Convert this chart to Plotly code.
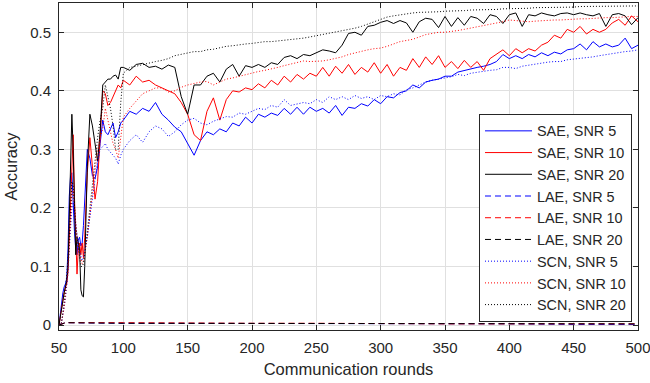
import plotly.graph_objects as go

# ---------------- data ----------------
rounds = ([50, 51, 52, 53, 54, 55, 56, 57, 58, 59, 60, 61, 62, 63, 64, 65, 66, 67, 68, 69, 70,
           72, 74, 76, 78, 80, 82, 84, 86, 88, 90, 92, 94, 96, 98]
          + list(range(100, 501, 5)))

sae_snr5 = [0, 0.02, 0.04, 0.055, 0.065, 0.07, 0.08, 0.13, 0.22, 0.255, 0.26, 0.2, 0.16, 0.13, 0.12, 0.145, 0.15, 0.135, 0.14, 0.17, 0.21,
            0.3, 0.285, 0.255, 0.25, 0.27, 0.31, 0.35, 0.33, 0.325, 0.335, 0.345, 0.32, 0.33, 0.345,
            0.35, 0.365, 0.36, 0.37, 0.365, 0.38, 0.36, 0.35, 0.338, 0.33,
            0.31, 0.29, 0.315, 0.33, 0.325, 0.335, 0.33, 0.345, 0.34, 0.355,
            0.345, 0.36, 0.355, 0.362, 0.358, 0.37, 0.36, 0.372, 0.36, 0.372,
            0.365, 0.37, 0.362, 0.375, 0.358, 0.372, 0.37, 0.378, 0.374, 0.385,
            0.378, 0.39, 0.388, 0.397, 0.4, 0.41, 0.405, 0.415, 0.418, 0.42,
            0.425, 0.425, 0.432, 0.435, 0.438, 0.44, 0.442, 0.445, 0.45, 0.462,
            0.455, 0.46, 0.455, 0.462, 0.458, 0.465, 0.46, 0.466, 0.463, 0.47,
            0.472, 0.48, 0.47, 0.484, 0.475, 0.48, 0.475, 0.478, 0.49, 0.472,
            0.478]

sae_snr10 = [0, 0.015, 0.03, 0.045, 0.055, 0.065, 0.07, 0.09, 0.15, 0.22, 0.3, 0.325, 0.22, 0.14, 0.087, 0.13, 0.14, 0.12, 0.14, 0.115, 0.15,
             0.26, 0.32, 0.27, 0.215, 0.245, 0.33, 0.4, 0.395, 0.375, 0.38, 0.39, 0.4, 0.41, 0.405,
             0.418, 0.41, 0.425, 0.415, 0.418, 0.41, 0.405, 0.4, 0.395, 0.38,
             0.36, 0.325, 0.315, 0.365, 0.388, 0.35, 0.385, 0.4, 0.398, 0.405,
             0.402, 0.412, 0.405, 0.418, 0.41, 0.425, 0.415, 0.428, 0.42, 0.43,
             0.425, 0.44, 0.425, 0.442, 0.43, 0.445, 0.428, 0.44, 0.432, 0.448,
             0.43, 0.445, 0.425, 0.44, 0.435, 0.455, 0.44, 0.458, 0.445, 0.46,
             0.44, 0.45, 0.438, 0.452, 0.44, 0.45, 0.435, 0.455, 0.462, 0.47,
             0.46, 0.472, 0.465, 0.472, 0.468, 0.478, 0.483, 0.495, 0.49, 0.505,
             0.5, 0.51, 0.497, 0.505, 0.5, 0.505, 0.516, 0.522, 0.512, 0.528,
             0.518]

sae_snr20 = [0, 0.015, 0.03, 0.045, 0.055, 0.065, 0.075, 0.1, 0.2, 0.3, 0.36, 0.3, 0.19, 0.12, 0.15, 0.14, 0.13, 0.06, 0.05, 0.048, 0.1,
             0.27, 0.36, 0.34, 0.31, 0.28, 0.33, 0.41, 0.415, 0.42, 0.42, 0.425, 0.427, 0.42, 0.44,
             0.44, 0.435, 0.445, 0.447, 0.44, 0.442, 0.437, 0.444, 0.44, 0.39,
             0.36, 0.41, 0.41, 0.425, 0.43, 0.415, 0.437, 0.445, 0.425, 0.443,
             0.44, 0.445, 0.44, 0.448, 0.445, 0.457, 0.46, 0.455, 0.462, 0.46,
             0.465, 0.47, 0.468, 0.465, 0.478, 0.498, 0.5, 0.495, 0.51, 0.512,
             0.517, 0.52, 0.515, 0.52, 0.516, 0.5, 0.518, 0.524, 0.522, 0.508,
             0.527, 0.51, 0.525, 0.512, 0.527, 0.524, 0.515, 0.53, 0.527, 0.515,
             0.53, 0.533, 0.51, 0.53, 0.528, 0.533, 0.53, 0.528, 0.532, 0.533,
             0.53, 0.533, 0.53, 0.528, 0.532, 0.51, 0.53, 0.532, 0.528, 0.513,
             0.525]

scn_snr5 = [0, 0, 0.005, 0.015, 0.03, 0.045, 0.065, 0.09, 0.13, 0.17, 0.2, 0.21, 0.19, 0.165, 0.15, 0.135, 0.125, 0.115, 0.11, 0.115, 0.125,
            0.15, 0.185, 0.22, 0.255, 0.28, 0.3, 0.305, 0.31, 0.3, 0.295, 0.29, 0.285, 0.275, 0.29,
            0.3, 0.315, 0.325, 0.312, 0.33, 0.34, 0.335, 0.322, 0.33, 0.342,
            0.35, 0.353, 0.345, 0.342, 0.348, 0.352, 0.356, 0.355, 0.362, 0.36,
            0.365, 0.37, 0.368, 0.375, 0.372, 0.385, 0.375, 0.378, 0.38, 0.378,
            0.385, 0.38, 0.39, 0.385, 0.39, 0.385, 0.392, 0.387, 0.39, 0.385,
            0.392, 0.39, 0.395, 0.393, 0.402, 0.405, 0.41, 0.415, 0.418, 0.42,
            0.423, 0.424, 0.428, 0.426, 0.43, 0.432, 0.433, 0.435, 0.436, 0.44,
            0.44, 0.438, 0.442, 0.444, 0.445, 0.447, 0.449, 0.45, 0.45, 0.453,
            0.454, 0.456, 0.457, 0.458, 0.46, 0.462, 0.463, 0.465, 0.467, 0.468,
            0.47]

scn_snr10 = [0, 0, 0.005, 0.015, 0.03, 0.05, 0.07, 0.1, 0.14, 0.18, 0.22, 0.23, 0.2, 0.17, 0.15, 0.13, 0.12, 0.11, 0.105, 0.11, 0.12,
             0.15, 0.19, 0.23, 0.27, 0.3, 0.32, 0.335, 0.37, 0.35, 0.33, 0.31, 0.3, 0.285, 0.32,
             0.355, 0.37, 0.383, 0.395, 0.4, 0.405, 0.405, 0.398, 0.4, 0.406,
             0.41, 0.413, 0.415, 0.416, 0.41, 0.415, 0.42, 0.422, 0.425, 0.428,
             0.43, 0.433, 0.435, 0.437, 0.44, 0.443, 0.446, 0.449, 0.451, 0.45,
             0.45, 0.451, 0.453, 0.455, 0.458, 0.462, 0.465, 0.468, 0.47, 0.472,
             0.473, 0.476, 0.48, 0.484, 0.486, 0.488, 0.492, 0.496, 0.498, 0.5,
             0.5, 0.501, 0.503, 0.505, 0.507, 0.509, 0.511, 0.513, 0.515, 0.518,
             0.521, 0.52, 0.518, 0.518, 0.519, 0.52, 0.52, 0.521, 0.521, 0.522,
             0.522, 0.523, 0.523, 0.524, 0.524, 0.525, 0.525, 0.526, 0.526, 0.527,
             0.527]

scn_snr20 = [0, 0, 0.005, 0.02, 0.04, 0.06, 0.08, 0.11, 0.15, 0.2, 0.245, 0.24, 0.2, 0.17, 0.15, 0.13, 0.115, 0.1, 0.1, 0.105, 0.12,
             0.16, 0.21, 0.25, 0.29, 0.32, 0.35, 0.37, 0.41, 0.39, 0.37, 0.34, 0.3, 0.3, 0.38,
             0.43, 0.44, 0.442, 0.445, 0.448, 0.45, 0.452, 0.455, 0.46, 0.462,
             0.465, 0.467, 0.467, 0.47, 0.471, 0.474, 0.476, 0.477, 0.479, 0.48,
             0.481, 0.483, 0.484, 0.484, 0.485, 0.487, 0.488, 0.489, 0.49, 0.492,
             0.494, 0.497, 0.499, 0.501, 0.503, 0.505, 0.507, 0.51, 0.514, 0.518,
             0.522, 0.526, 0.528, 0.53, 0.532, 0.533, 0.534, 0.534, 0.535, 0.535,
             0.536, 0.536, 0.537, 0.537, 0.538, 0.538, 0.539, 0.539, 0.539, 0.54,
             0.54, 0.541, 0.541, 0.541, 0.542, 0.542, 0.542, 0.543, 0.543, 0.543,
             0.543, 0.544, 0.544, 0.544, 0.544, 0.544, 0.545, 0.545, 0.545, 0.545,
             0.545]

lae_rounds = [50, 55, 100, 150, 200, 250, 300, 350, 400, 450, 500]
lae_snr5 = [0, 0.004, 0.003, 0.003, 0.002, 0.002, 0.002, 0.002, 0.002, 0.001, 0.001]
lae_snr10 = [0, 0.004, 0.004, 0.003, 0.003, 0.003, 0.002, 0.002, 0.002, 0.002, 0.002]
lae_snr20 = [0, 0.004, 0.003, 0.003, 0.003, 0.002, 0.002, 0.002, 0.002, 0.002, 0.002]

x_ticks = [50, 100, 150, 200, 250, 300, 350, 400, 450, 500]
y_ticks = [0, 0.1, 0.2, 0.3, 0.4, 0.5]
y_tick_labels = ["0", "0.1", "0.2", "0.3", "0.4", "0.5"]

for s in (sae_snr5, sae_snr10, sae_snr20, scn_snr5, scn_snr10, scn_snr20):
    assert len(s) == len(rounds), (len(s), len(rounds))

# ---------------- figure ----------------
BLUE, RED, BLACK = "#0000FF", "#FF0000", "#000000"
AX = "#262626"
FONT = "Liberation Sans, Arial, sans-serif"

series = [
    ("SAE, SNR 5", rounds, sae_snr5, BLUE, "solid"),
    ("SAE, SNR 10", rounds, sae_snr10, RED, "solid"),
    ("SAE, SNR 20", rounds, sae_snr20, BLACK, "solid"),
    ("LAE, SNR 5", lae_rounds, lae_snr5, BLUE, "6px,4px"),
    ("LAE, SNR 10", lae_rounds, lae_snr10, RED, "6px,4px"),
    ("LAE, SNR 20", lae_rounds, lae_snr20, BLACK, "6px,4px"),
    ("SCN, SNR 5", rounds, scn_snr5, BLUE, "1px,2px"),
    ("SCN, SNR 10", rounds, scn_snr10, RED, "1px,2px"),
    ("SCN, SNR 20", rounds, scn_snr20, BLACK, "1px,2px"),
]

fig = go.Figure()
for name, xs, ys, color, dash in series:
    fig.add_trace(go.Scatter(x=xs, y=ys, mode="lines", name=name,
                             line=dict(color=color, width=1, dash=dash)))

fig.update_layout(
    width=650, height=383,
    margin=dict(l=59, r=12, t=3, b=53, autoexpand=False),
    paper_bgcolor="white", plot_bgcolor="white",
    font=dict(family=FONT, size=14.5, color=AX),
    showlegend=True,
    legend=dict(x=0.7254, y=0.6606, xanchor="left", yanchor="top",
                bgcolor="white", bordercolor=AX, borderwidth=1,
                font=dict(family=FONT, size=14.4, color=AX),
                itemwidth=47, tracegroupgap=0),
)

fig.update_xaxes(range=[50, 500.001], tickvals=x_ticks, ticks="inside", ticklen=5,
                 tickcolor=AX, showline=True, linecolor=AX, linewidth=1, mirror="ticks",
                 showgrid=True, gridcolor="#e0e0e0", gridwidth=1, zeroline=False,
                 automargin=False, ticklabeloverflow="allow", ticklabelstandoff=4,
                 tickfont=dict(size=15, color=AX),
                 title=dict(text="Communication rounds", font=dict(size=16.5, color=AX), standoff=8))
fig.update_yaxes(range=[-0.0085, 0.55], tickvals=y_ticks, ticktext=y_tick_labels,
                 ticks="inside", ticklen=5, tickcolor=AX, showline=True, linecolor=AX,
                 linewidth=1, mirror="ticks", showgrid=True, gridcolor="#e0e0e0",
                 gridwidth=1, zeroline=False, ticklabelstandoff=4, automargin=False,
                 tickfont=dict(size=15, color=AX),
                 title=dict(text="Accuracy", font=dict(size=16.5, color=AX), standoff=8))

fig.write_html("out.html",
               config={"displayModeBar": False},
               post_script="document.body.style.margin='0';document.body.style.padding='0';")
